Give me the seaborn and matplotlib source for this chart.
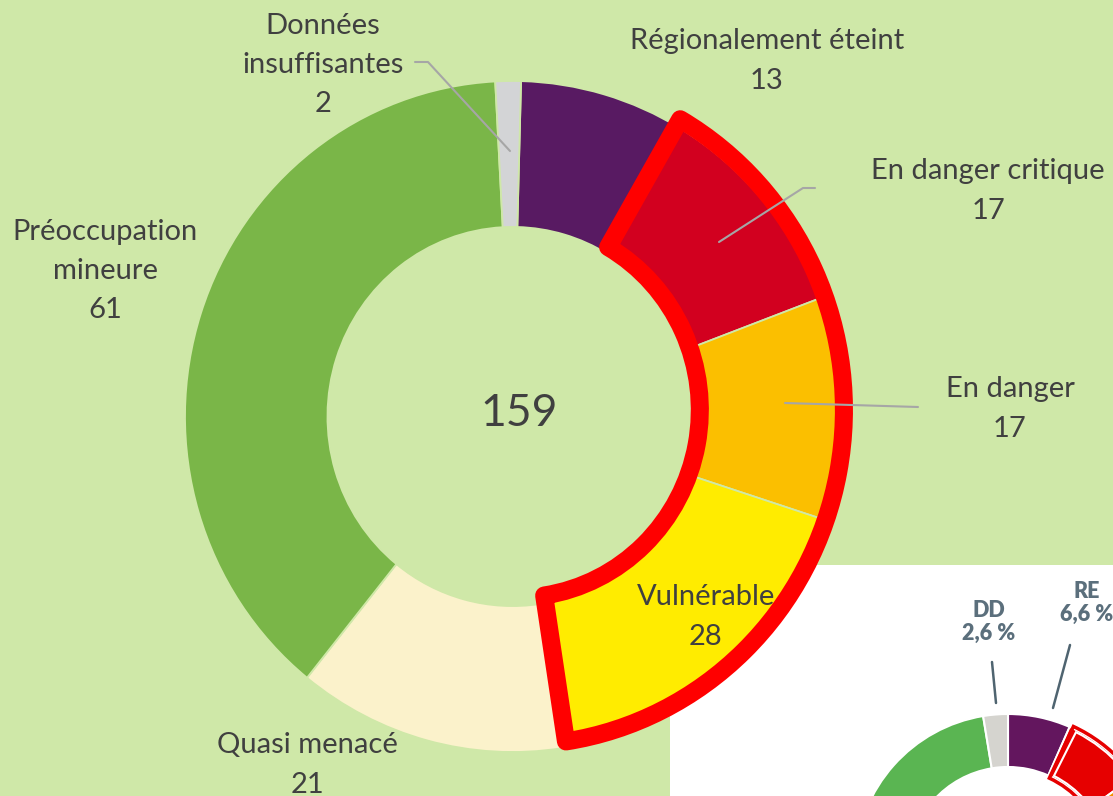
import numpy as np
import matplotlib.pyplot as plt
import seaborn as sns
from matplotlib.patches import Wedge

# main donut: counts per IUCN category (clockwise from the top)
categories = ["Régionalement éteint", "En danger critique", "En danger",
              "Vulnérable", "Quasi menacé", "Préoccupation\nmineure",
              "Données\ninsuffisantes"]
counts = [13, 17, 17, 28, 21, 61, 2]
colors = ["#581a62", "#d2001f", "#fbbf00", "#ffec00", "#fbf2cb", "#7ab648", "#d3d4d6"]

# inset donut (partially visible): percentages
inset_shares = [6.6, 8.5, 12.0, 15.0, 12.0, 43.3, 2.6]
inset_colors = ["#63165e", "#e60000", "#f39200", "#ffe600", "#f6f0c8", "#5ab552", "#d5d4cf"]
inset_labels = ["RE\n6,6 %", "DD\n2,6 %"]

BG = "#cfe8a8"
TXT = "#404040"
W, H = 1113, 796
CX, CY, RX, RY = 512.5, 416.5, 327.5, 335.5


def px(x, y):
    # pixel position -> normalised donut coordinates
    return (x - CX) / RX, (CY - y) / RY


sns.set_theme(style="white")
plt.rcParams["font.family"] = ["Lato", "DejaVu Sans"]

fig = plt.figure(figsize=(W / 100, H / 100), dpi=100, facecolor=BG)

# ---- inset panel (bottom right, white) ----
ax2 = fig.add_axes([670 / W, 0, (W - 670) / W, 231 / H], zorder=0)
ax2.set_facecolor("white")
ax2.pie(inset_shares, colors=inset_colors, startangle=90, counterclock=False,
        radius=153, center=(1008, -71), frame=True,
        wedgeprops=dict(width=53, edgecolor="white", linewidth=1.5))
ax2.add_patch(Wedge((1008, -71), 155, 90 - 6.6 * 3.6 - 48, 90 - 6.6 * 3.6 - 1.2, width=57,
                    fill=False, edgecolor="#e60000", linewidth=2.5))
ax2.add_patch(Wedge((1008, -71), 151, 90 - 6.6 * 3.6 - 48, 90 - 6.6 * 3.6 - 3, width=49,
                    fill=False, edgecolor="white", linewidth=1.5))
ax2.set_xlim(670, W)
ax2.set_ylim(0, 231)
ax2.set_aspect("auto")
ax2.set_xticks([])
ax2.set_yticks([])
for s in ax2.spines.values():
    s.set_visible(False)
ax2.plot([1070, 1053], [796 - 645, 796 - 708], color="#4f6470", lw=1.8)
ax2.plot([992, 996], [796 - 662, 796 - 703], color="#4f6470", lw=1.8)
ax2.text(1087, 796 - 603, inset_labels[0], ha="center", va="center", fontsize=15.5,
         fontweight="heavy", color="#5b6f7c", linespacing=1.15)
ax2.text(989, 796 - 622, inset_labels[1], ha="center", va="center", fontsize=15.5,
         fontweight="heavy", color="#5b6f7c", linespacing=1.15)

# ---- main donut ----
ax = fig.add_axes([0, 0, 1, 1], zorder=1)
ax.set_facecolor("none")
ax.pie(counts, colors=colors, startangle=88.5, counterclock=False, radius=1,
       frame=True, wedgeprops=dict(width=0.435, edgecolor=BG, linewidth=1.3))

# red outline around the threatened categories
ax.add_patch(Wedge((0.012, 0.02), 1.0, -81.3, 60, width=0.44, fill=False,
                   edgecolor="#ff0000", linewidth=13, joinstyle="round", zorder=5))

x0, y0 = px(0, H)
x1, y1 = px(W, 0)
ax.set_xlim(x0, x1)
ax.set_ylim(y0, y1)
ax.set_aspect("auto")
ax.axis("off")

# leader lines
leaders = [
    [(510, 151), (428, 62), (415, 62)],
    [(719, 242), (803, 188), (815, 188)],
    [(785, 403), (918, 407)],
]
for pts in leaders:
    xy = np.array([px(*p) for p in pts])
    ax.plot(xy[:, 0], xy[:, 1], color="#a6a6a6", lw=1.5, zorder=6)

label_pos = [(767, 61), (988, 191), (1010, 409), (706, 617), (307, 765), (105, 271), (323, 65)]
for cat, n, (lx, ly) in zip(categories, counts, label_pos):
    ax.text(*px(lx, ly), f"{cat}\n{n}", ha="center", va="center", fontsize=21,
            color=TXT, linespacing=1.62, zorder=7)

ax.text(*px(519, 414), str(sum(counts)), ha="center", va="center", fontsize=32, color=TXT)

fig.savefig("out.png", dpi=100, facecolor=BG)
